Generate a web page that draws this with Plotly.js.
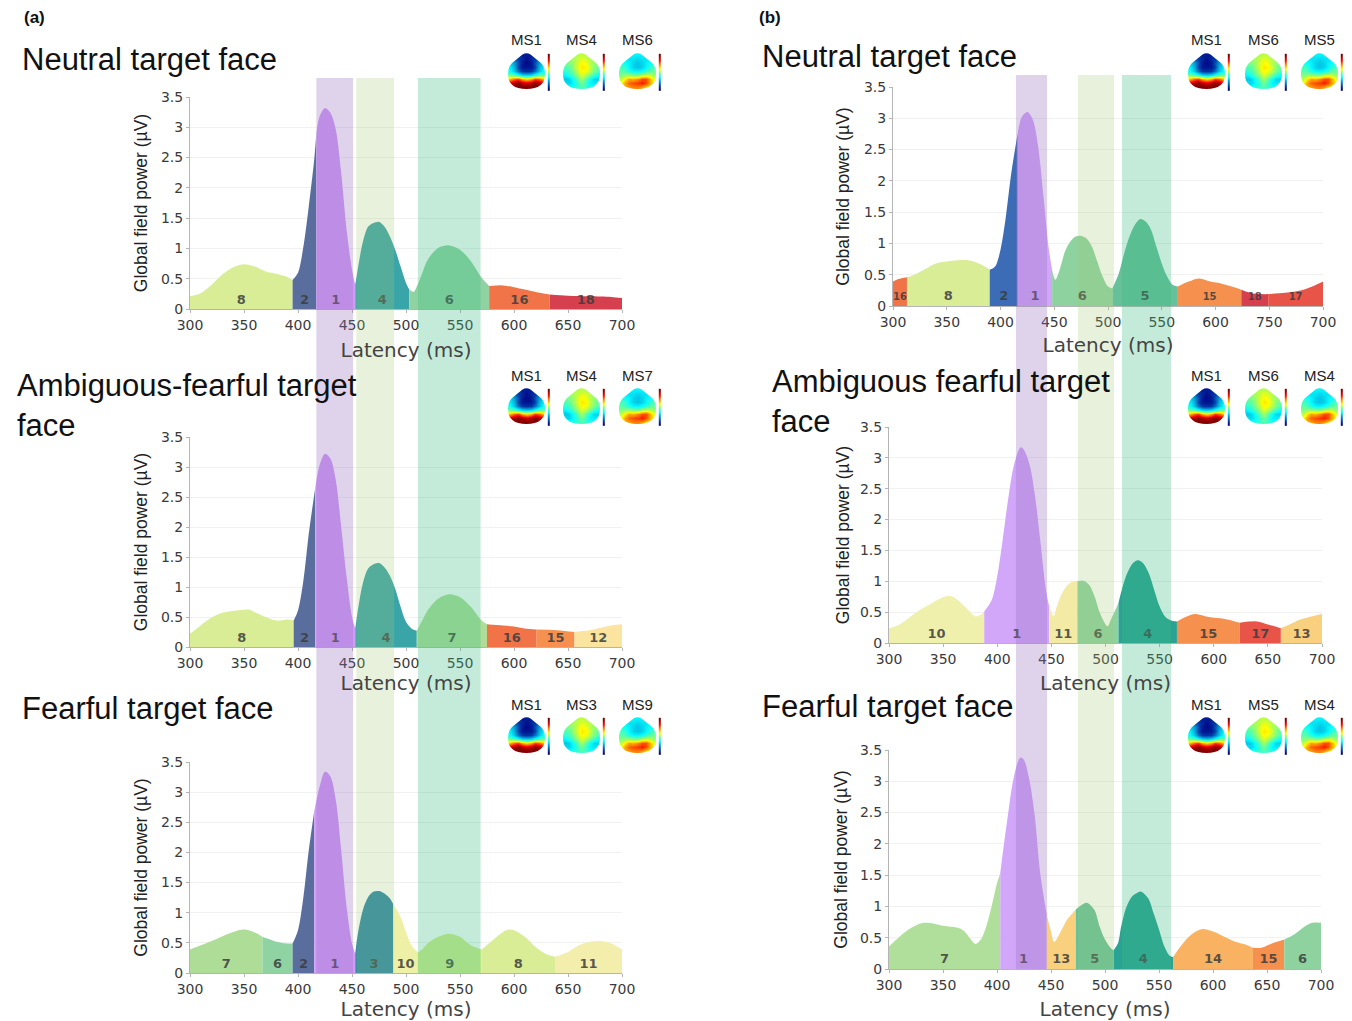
<!DOCTYPE html>
<html><head><meta charset="utf-8">
<script src="https://cdn.plot.ly/plotly-3.0.1.min.js"></script>
<style>html,body{margin:0;padding:0;background:#fff}#chart{width:1352px;height:1021px}</style>
</head><body><div id="chart"></div>
<script>
// ---------------- DATA ----------------
// (a) Neutral target face
const a1X = [300,310,320,330,340,350,360,370,380,390,395,400,405,410,415,417,420,425,430,435,440,445,450,453,455,460,465,470,475,480,485,490,495,500,503,507,510,515,520,530,540,550,560,570,577,590,600,610,620,633,650,670,690,700];
const a1Y = [0.21,0.26,0.40,0.57,0.69,0.74,0.70,0.62,0.58,0.53,0.48,0.60,1.03,1.70,2.47,2.90,3.18,3.32,3.24,2.96,2.25,1.31,0.65,0.40,0.62,1.10,1.36,1.42,1.44,1.36,1.20,0.98,0.70,0.43,0.32,0.28,0.37,0.59,0.81,1.01,1.05,0.98,0.79,0.52,0.38,0.39,0.36,0.32,0.28,0.24,0.22,0.21,0.20,0.18];
const a1Bounds = [300,395,417,453,503,577,633,700];
const a1States = [8,2,1,4,6,16,18];
// (a) Ambiguous-fearful target face
const a2X = [300,310,320,330,340,350,355,360,370,380,390,396,400,405,410,416,420,425,430,435,440,445,450,453,455,460,465,470,475,480,485,490,495,500,505,510,515,520,530,540,550,560,570,575,590,600,610,621,640,656,670,690,700];
const a2Y = [0.22,0.36,0.49,0.57,0.60,0.62,0.62,0.58,0.50,0.44,0.46,0.44,0.61,1.11,1.89,2.66,3.03,3.22,3.14,2.78,2.00,1.17,0.50,0.31,0.56,1.06,1.31,1.38,1.40,1.33,1.19,0.97,0.67,0.42,0.31,0.27,0.44,0.61,0.81,0.88,0.83,0.67,0.44,0.38,0.36,0.34,0.31,0.29,0.28,0.25,0.28,0.36,0.38];
const a2Bounds = [300,396,416,453,510,575,621,656,700];
const a2States = [8,2,1,4,7,16,15,12];
// (a) Fearful target face
const a3X = [300,310,320,330,340,350,360,367,380,390,395,400,405,410,415,420,425,430,435,440,445,450,453,455,460,465,470,475,480,485,488,495,500,505,511,515,520,530,540,550,560,570,580,590,595,600,610,620,630,638,650,660,670,680,690,700];
const a3Y = [0.39,0.46,0.53,0.61,0.68,0.72,0.67,0.60,0.52,0.49,0.49,0.71,1.26,2.04,2.68,3.09,3.34,3.26,2.87,2.04,1.10,0.49,0.32,0.60,1.04,1.26,1.35,1.36,1.32,1.24,1.15,0.93,0.68,0.46,0.34,0.39,0.49,0.60,0.65,0.60,0.46,0.39,0.54,0.68,0.72,0.71,0.60,0.43,0.31,0.27,0.35,0.46,0.52,0.53,0.49,0.39];
const a3Bounds = [300,367,395,415,453,488,511,570,638,700];
const a3States = [7,6,2,1,3,10,9,8,11];
// (b) Neutral target face
const b1X = [300,305,313,320,330,340,350,360,370,380,390,395,400,405,410,416,420,425,430,435,440,445,448,451,455,460,465,470,475,480,485,490,495,500,504,510,515,520,525,530,535,540,545,550,555,560,565,575,585,595,605,615,624,635,649,665,680,690,700];
const b1Y = [0.39,0.43,0.46,0.50,0.59,0.68,0.71,0.73,0.73,0.68,0.58,0.63,0.90,1.43,2.12,2.76,3.03,3.10,2.98,2.55,1.75,0.90,0.58,0.42,0.58,0.87,1.03,1.11,1.12,1.08,0.95,0.71,0.47,0.31,0.28,0.52,0.84,1.11,1.30,1.39,1.35,1.22,0.95,0.68,0.47,0.34,0.31,0.39,0.44,0.39,0.36,0.31,0.26,0.20,0.19,0.21,0.25,0.31,0.39];
const b1Bounds = [300,313,390,416,448,504,565,624,649,700];
const b1States = [16,8,2,1,6,5,15,18,17];
// (b) Ambiguous fearful target face
const b2X = [300,310,320,330,340,350,355,360,370,380,385,388,395,400,405,410,415,420,422,425,430,435,440,445,448,452,455,460,465,470,474,480,485,490,495,502,505,512,515,520,525,530,535,540,545,550,555,560,566,575,583,595,610,624,640,650,662,670,680,690,700];
const b2Y = [0.24,0.30,0.43,0.55,0.65,0.74,0.76,0.74,0.59,0.43,0.46,0.51,0.70,1.08,1.67,2.32,2.85,3.13,3.17,3.12,2.88,2.37,1.62,0.86,0.59,0.43,0.59,0.81,0.94,1.00,1.00,1.01,0.94,0.75,0.48,0.27,0.38,0.65,0.86,1.13,1.29,1.34,1.29,1.13,0.86,0.59,0.43,0.37,0.35,0.43,0.47,0.42,0.39,0.33,0.35,0.30,0.24,0.30,0.38,0.43,0.47];
const b2Bounds = [300,388,448,474,512,566,624,662,700];
const b2States = [10,1,11,6,4,15,17,13];
// (b) Fearful target face
const b3X = [300,310,320,330,335,340,350,360,365,370,375,380,385,390,395,400,403,405,410,415,420,422,425,430,435,440,446,450,453,460,465,470,473,478,483,490,495,500,505,508,512,515,520,525,530,533,540,545,550,555,560,563,570,580,590,600,610,620,630,637,645,655,666,675,685,692,700];
const b3Y = [0.36,0.52,0.65,0.73,0.74,0.73,0.69,0.67,0.65,0.60,0.49,0.40,0.47,0.68,1.00,1.37,1.53,1.80,2.44,3.02,3.34,3.38,3.34,3.02,2.44,1.53,0.87,0.60,0.43,0.63,0.79,0.89,0.95,1.02,1.06,0.95,0.68,0.47,0.34,0.30,0.41,0.68,1.00,1.16,1.22,1.24,1.13,0.89,0.63,0.36,0.21,0.19,0.36,0.55,0.64,0.60,0.52,0.44,0.39,0.34,0.34,0.41,0.47,0.55,0.68,0.74,0.74];
const b3Bounds = [300,403,446,473,508,563,637,666,700];
const b3States = [7,1,13,5,4,14,15,6];

// highlighted time windows (ms)
const bandsA = [[417,451],[454,489],[511,569]];
const bandsB = [[414.4,443.3],[472,505.6],[513,558.6]];

// x tick labels
const xTickVals = [300,350,400,450,500,550,600,650,700];
const xTickText = ['300','350','400','450','500','550','600','650','700'];
const xTickTextB1 = ['300','350','400','450','500','550','600','750','700'];

// topographic map names per row
const topoA1 = ['MS1','MS4','MS6'];
const topoA2 = ['MS1','MS4','MS7'];
const topoA3 = ['MS1','MS3','MS9'];
const topoB1 = ['MS1','MS6','MS5'];
const topoB2 = ['MS1','MS6','MS4'];
const topoB3 = ['MS1','MS5','MS4'];
// map type per head (P1 = frontal negative / posterior positive, PA = central positive, PB = posterior positive)
const topoTypes = ['P1','PA','PB'];
// approximate scalp values (rows top->bottom, normalised 0..1)
const mapP1 = [
[0.30,0.20,0.12,0.06,0.05,0.06,0.12,0.20,0.30],
[0.30,0.20,0.12,0.08,0.03,0.08,0.12,0.20,0.30],
[0.32,0.25,0.16,0.05,0.02,0.05,0.16,0.25,0.32],
[0.35,0.28,0.14,0.05,0.04,0.05,0.14,0.28,0.35],
[0.38,0.30,0.20,0.12,0.10,0.12,0.20,0.30,0.38],
[0.48,0.46,0.40,0.34,0.32,0.34,0.40,0.46,0.48],
[0.70,0.78,0.82,0.72,0.66,0.72,0.82,0.78,0.70],
[0.92,0.96,1.00,0.95,0.92,0.95,1.00,0.96,0.92],
[1.00,1.00,1.00,1.00,1.00,1.00,1.00,1.00,1.00]];
const mapPA = [
[0.50,0.52,0.54,0.55,0.56,0.55,0.54,0.52,0.50],
[0.50,0.52,0.54,0.56,0.60,0.58,0.55,0.52,0.50],
[0.48,0.50,0.52,0.58,0.63,0.61,0.55,0.52,0.50],
[0.45,0.46,0.52,0.58,0.65,0.63,0.57,0.50,0.48],
[0.42,0.44,0.49,0.56,0.63,0.61,0.55,0.49,0.45],
[0.36,0.40,0.45,0.51,0.59,0.54,0.48,0.42,0.38],
[0.30,0.32,0.38,0.45,0.53,0.45,0.38,0.32,0.32],
[0.34,0.32,0.37,0.42,0.48,0.42,0.36,0.35,0.36],
[0.40,0.40,0.40,0.42,0.45,0.42,0.40,0.40,0.40]];
const mapPB = [
[0.38,0.36,0.36,0.36,0.36,0.36,0.36,0.36,0.38],
[0.38,0.36,0.34,0.34,0.32,0.34,0.34,0.36,0.38],
[0.40,0.38,0.36,0.32,0.30,0.32,0.36,0.38,0.40],
[0.44,0.42,0.36,0.32,0.30,0.32,0.36,0.42,0.44],
[0.46,0.44,0.40,0.37,0.36,0.38,0.42,0.46,0.48],
[0.50,0.52,0.52,0.50,0.50,0.55,0.58,0.56,0.52],
[0.55,0.65,0.72,0.70,0.74,0.80,0.80,0.70,0.60],
[0.62,0.72,0.78,0.80,0.82,0.85,0.80,0.70,0.64],
[0.64,0.70,0.72,0.75,0.75,0.72,0.66,0.64,0.62]];
const colorbarZ = [[1],[0.9],[0.8],[0.7],[0.6],[0.5],[0.4],[0.3],[0.2],[0.1],[0]];

// ---------------- STYLE ----------------
const palA = {1:'#d09cf8',2:'#5a6e9e',3:'#2a86a8',4:'#3aa5a9',6:'#8fd3a2',7:'#aedd98',8:'#d8ed96',9:'#d2ec8c',10:'#eef0a6',11:'#f3eeac',12:'#fbe3a0',15:'#f5904f',16:'#f07448',18:'#d6404e'};
const palB = {1:'#d2a6f9',2:'#3b6cb5',4:'#2aa394',5:'#66c09a',6:'#8ed2a0',7:'#b0df9c',8:'#d8ed96',10:'#eef0ac',11:'#f3eaa6',13:'#f9d07e',14:'#f8b262',15:'#f5904f',16:'#f07448',17:'#e85548',18:'#d6404e'};
const bandColors = ['rgba(150,110,190,0.30)','rgba(160,200,110,0.25)','rgba(60,190,130,0.30)'];
const jet = [[0,'rgb(0,0,131)'],[0.125,'rgb(0,60,170)'],[0.375,'rgb(5,255,255)'],[0.625,'rgb(255,255,0)'],[0.875,'rgb(250,0,0)'],[1,'rgb(128,0,0)']];
const W = 1352, H = 1021;
const fx = p => p / W, fy = p => 1 - p / H;

const subplots = [
 {X:a1X,Y:a1Y,B:a1Bounds,S:a1States,pal:palA,box:[190,622,97,309],tt:xTickText,xs:11,ys:8},
 {X:a2X,Y:a2Y,B:a2Bounds,S:a2States,pal:palA,box:[190,622,437,647],tt:xTickText,xs:4,ys:8},
 {X:a3X,Y:a3Y,B:a3Bounds,S:a3States,pal:palA,box:[190,622,762,973],tt:xTickText,xs:4,ys:8},
 {X:b1X,Y:b1Y,B:b1Bounds,S:b1States,pal:palB,box:[893,1323,87,306],tt:xTickTextB1,xs:9,ys:9,small:true},
 {X:b2X,Y:b2Y,B:b2Bounds,S:b2States,pal:palB,box:[889,1322,427,643],tt:xTickText,xs:10,ys:5},
 {X:b3X,Y:b3Y,B:b3Bounds,S:b3States,pal:palB,box:[889,1321,750,969],tt:xTickText,xs:16,ys:7}
];

const traces = [];
const layout = {
  width: W, height: H, margin:{l:0,r:0,t:0,b:0}, paper_bgcolor:'#fff', plot_bgcolor:'#fff',
  showlegend:false, shapes:[], annotations:[], font:{family:'Liberation Sans, Arial, sans-serif', color:'#222'}
};

subplots.forEach((sp,i)=>{
  const sfx = i ? String(i+1) : '';
  const xa = 'x'+sfx, ya = 'y'+sfx;
  const mids = [], sizes = [];
  for (let k=0;k<sp.S.length;k++){
    const lo = sp.B[k], hi = sp.B[k+1];
    const xs = [], ys = [];
    sp.X.forEach((x,j)=>{ if (x>=lo && x<=hi){ xs.push(x); ys.push(sp.Y[j]); } });
    const c = sp.pal[sp.S[k]];
    traces.push({type:'scatter', mode:'lines', x:xs, y:ys, xaxis:xa, yaxis:ya,
      fill:'tozeroy', fillcolor:c, line:{width:0, color:c, shape:'spline', smoothing:0.9},
      hoverinfo:'skip', showlegend:false});
    mids.push((lo+hi)/2);
    sizes.push(sp.small && sp.S[k] >= 10 ? 10 : 13);
  }
  traces.push({type:'scatter', mode:'text', x:mids, y:mids.map(()=>0.14), xaxis:xa, yaxis:ya,
    text:sp.S.map(String), textposition:'middle center',
    textfont:{family:'DejaVu Sans', size:sizes, color:'rgba(60,60,60,0.85)', weight:'bold'},
    hoverinfo:'skip', showlegend:false});
  const [x0,x1,y0,y1] = sp.box;
  layout['xaxis'+sfx] = {domain:[fx(x0),fx(x1)], range:[300,700], anchor:ya, tickvals:xTickVals, ticktext:sp.tt,
    showline:true, linecolor:'#b5b5b5', linewidth:1, ticks:'outside', ticklen:3, tickcolor:'#b5b5b5',
    showgrid:false, zeroline:false, fixedrange:true,
    tickfont:{family:'DejaVu Sans', size:14, color:'#3a3a3a'},
    title:{text:'Latency (ms)', font:{family:'DejaVu Sans', size:20, color:'#444'}, standoff:sp.xs}};
  layout['yaxis'+sfx] = {domain:[fy(y1),fy(y0)], range:[0,3.5], anchor:xa, tick0:0, dtick:0.5,
    showline:true, linecolor:'#b5b5b5', linewidth:1, ticks:'outside', ticklen:3, tickcolor:'#b5b5b5',
    showgrid:true, gridcolor:'#f1f1f1', zeroline:false, fixedrange:true,
    tickfont:{family:'DejaVu Sans', size:14, color:'#3a3a3a'},
    title:{text:'Global field power (µV)', font:{family:'Liberation Sans, Arial, sans-serif', size:17.5, color:'#222'}, standoff:sp.ys}};
});

// highlighted windows spanning each column
bandsA.forEach((b,k)=>layout.shapes.push({type:'rect', xref:'x', yref:'paper', x0:b[0], x1:b[1], y0:fy(973), y1:fy(78), fillcolor:bandColors[k], line:{width:0}, layer:'above'}));
bandsB.forEach((b,k)=>layout.shapes.push({type:'rect', xref:'x4', yref:'paper', x0:b[0], x1:b[1], y0:fy(969), y1:fy(75), fillcolor:bandColors[k], line:{width:0}, layer:'above'}));

// topographic maps
const maps = {P1:mapP1, PA:mapPA, PB:mapPB};
const topoRows = [
  {names:topoA1, lefts:[508,563,619], top:53},
  {names:topoA2, lefts:[508,563,619], top:388},
  {names:topoA3, lefts:[508,563,619], top:717},
  {names:topoB1, lefts:[1188,1245,1301], top:53},
  {names:topoB2, lefts:[1188,1245,1301], top:388},
  {names:topoB3, lefts:[1188,1245,1301], top:717}
];
const headW = 37, headH = 36;
topoRows.forEach((r,i)=>{
  const n = 7+i, xa = 'x'+n, ya = 'y'+n;
  const L = r.lefts[0]-4, R = r.lefts[2]+46, T = r.top-3, Bt = r.top+42;
  layout['xaxis'+n] = {domain:[fx(L),fx(R)], range:[L,R], visible:false, fixedrange:true, anchor:ya};
  layout['yaxis'+n] = {domain:[fy(Bt),fy(T)], range:[Bt,T], visible:false, fixedrange:true, anchor:xa};
  r.names.forEach((nm,k)=>{
    const left = r.lefts[k], top = r.top;
    const z = maps[topoTypes[k]];
    const dx = headW/z[0].length, dy = headH/z.length;
    traces.push({type:'heatmap', z:z, x0:left+dx/2, dx:dx, y0:top+dy/2, dy:dy, xaxis:xa, yaxis:ya,
      colorscale:jet, zmin:0, zmax:1, zsmooth:'best', showscale:false, hoverinfo:'skip'});
    traces.push({type:'heatmap', z:colorbarZ, x0:left+41, dx:2.4, y0:top+2.5, dy:3.4, xaxis:xa, yaxis:ya,
      colorscale:jet, zmin:0, zmax:1, zsmooth:'best', showscale:false, hoverinfo:'skip'});
    // white mask giving the head outline
    const cx = left+headW/2, rr = left+headW, bb = top+headH;
    const outer = `M${left-2},${top-2} H${rr+2} V${bb+2} H${left-2} Z`;
    const inner = `M${left+4},${top+10} L${cx-4},${top+1.5} Q${cx},${top-1} ${cx+4},${top+1.5} L${rr-4},${top+10} `+
      `Q${rr},${top+14} ${rr},${top+21} Q${rr},${bb} ${cx},${bb} Q${left},${bb} ${left},${top+21} Q${left},${top+14} ${left+4},${top+10} Z`;
    layout.shapes.push({type:'path', xref:xa, yref:ya, path:outer+' '+inner, fillrule:'evenodd', fillcolor:'#ffffff', line:{width:0}, layer:'above'});
    layout.annotations.push({xref:'paper', yref:'paper', x:fx(cx), y:fy(top-13), xanchor:'center', yanchor:'middle',
      text:nm, showarrow:false, font:{family:'Liberation Sans, Arial, sans-serif', size:15, color:'#222'}});
  });
});

// titles and panel labels
const titles = [
  {t:'Neutral target face', x:20, y:60},
  {t:'Ambiguous-fearful target<br>face', x:15, y:405},
  {t:'Fearful target face', x:20, y:708},
  {t:'Neutral target face', x:760, y:56},
  {t:'Ambiguous fearful target<br>face', x:770, y:401},
  {t:'Fearful target face', x:760, y:706}
];
titles.forEach(o=>layout.annotations.push({xref:'paper', yref:'paper', x:fx(o.x), y:fy(o.y), xanchor:'left', yanchor:'middle', align:'left',
  text:o.t, showarrow:false, font:{family:'Liberation Sans, Arial, sans-serif', size:31, color:'#111'}}));
[['(a)',22],['(b)',757]].forEach(p=>layout.annotations.push({xref:'paper', yref:'paper', x:fx(p[1]), y:fy(18), xanchor:'left', yanchor:'middle',
  text:'<b>'+p[0]+'</b>', showarrow:false, font:{family:'Liberation Sans, Arial, sans-serif', size:17, color:'#111'}}));

Plotly.newPlot('chart', traces, layout, {staticPlot:true, displayModeBar:false});
</script>
</body></html>
